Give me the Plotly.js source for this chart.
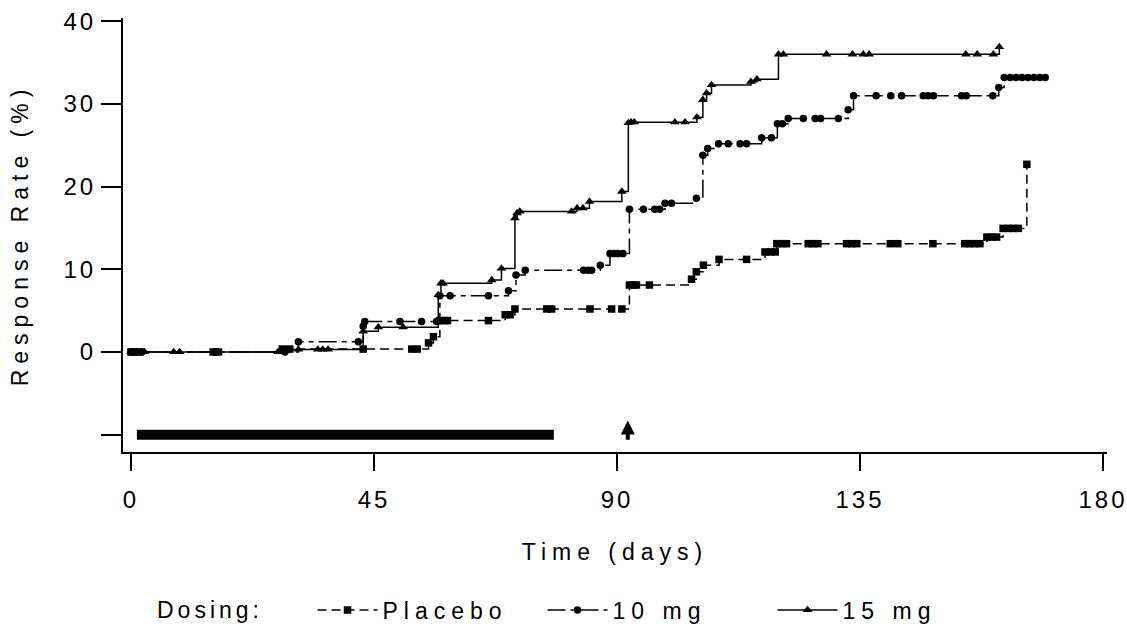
<!DOCTYPE html>
<html>
<head>
<meta charset="utf-8">
<script src="https://cdn.plot.ly/plotly-3.0.1.min.js"></script>
<style>
  html, body { margin: 0; padding: 0; background: #fff; }
  #chart { width: 1127px; height: 629px; }
  .xtick text, .ytick text { letter-spacing: 3px; }
  text.xtitle, text.ytitle, text.legendtext { letter-spacing: 6px; }
  text.legendtitletext { letter-spacing: 4px; }
</style>
</head>
<body>
<div id="chart"></div>
<script>
// ---- Data ----
const placeboDays = [0, 0.6, 1.6, 15.2, 16.2, 28.0, 29.4, 43.0, 52.0, 53.0, 55.1, 56.0, 57.2, 58.0, 58.6, 66.2, 69.3, 70.2, 71.1, 77.0, 77.9, 85.0, 89.0, 90.9, 92.3, 93.0, 93.6, 96.0, 103.8, 104.7, 106.0, 108.9, 114.0, 117.4, 118.4, 119.3, 119.6, 120.5, 121.4, 125.4, 126.3, 127.2, 132.5, 133.5, 134.4, 140.6, 142.0, 148.5, 154.4, 155.3, 156.2, 157.2, 158.5, 159.4, 160.3, 161.5, 162.5, 163.4, 164.3, 165.9];
const placeboRate = [0, 0, 0, 0, 0, 0.35, 0.35, 0.35, 0.35, 0.35, 1.1, 1.85, 3.8, 3.8, 3.8, 3.8, 4.5, 4.5, 5.2, 5.2, 5.2, 5.2, 5.2, 5.2, 8.1, 8.1, 8.1, 8.1, 8.8, 9.7, 10.5, 11.2, 11.2, 12.1, 12.1, 12.1, 13.1, 13.1, 13.1, 13.1, 13.1, 13.1, 13.1, 13.1, 13.1, 13.1, 13.1, 13.1, 13.1, 13.1, 13.1, 13.1, 13.9, 13.9, 13.9, 14.95, 14.95, 14.95, 14.95, 22.7];

const mg10Days = [0, 1.0, 2.0, 15.6, 28.5, 31.0, 42.1, 43.0, 43.3, 49.8, 53.8, 56.6, 57.2, 59.1, 66.2, 69.9, 71.3, 73.0, 83.8, 84.6, 85.3, 86.9, 88.7, 89.5, 90.2, 91.1, 92.3, 94.9, 97.0, 97.9, 98.9, 100.1, 104.7, 105.9, 106.8, 108.8, 110.6, 112.8, 114.0, 116.8, 118.6, 119.7, 120.6, 121.7, 124.5, 126.7, 127.7, 131.0, 132.8, 133.8, 138.0, 140.7, 142.7, 146.7, 147.6, 148.6, 153.8, 154.7, 159.6, 160.7, 161.7, 162.8, 163.9, 165.0, 166.1, 167.2, 168.3, 169.3];
const mg10Rate = [0, 0, 0, 0, 0, 1.25, 1.25, 3.1, 3.7, 3.7, 3.7, 3.7, 6.8, 6.8, 6.8, 7.4, 9.3, 9.9, 9.9, 9.9, 9.9, 10.5, 11.9, 11.9, 11.9, 11.9, 17.25, 17.25, 17.25, 17.25, 18.0, 18.0, 18.6, 23.8, 24.6, 25.2, 25.2, 25.2, 25.2, 25.9, 25.9, 27.6, 27.6, 28.25, 28.25, 28.25, 28.25, 28.25, 29.3, 31.0, 31.0, 31.0, 31.0, 31.0, 31.0, 31.0, 31.0, 31.0, 31.0, 32.0, 33.2, 33.2, 33.2, 33.2, 33.2, 33.2, 33.2, 33.2];

const mg15Days = [0, 0.3, 2.5, 7.9, 9.0, 27.2, 28.2, 31.0, 34.6, 35.5, 36.5, 43.0, 45.8, 50.4, 56.9, 57.4, 57.8, 66.8, 68.6, 71.1, 71.5, 72.0, 81.6, 82.6, 83.7, 84.9, 90.9, 92.1, 92.6, 93.2, 100.7, 102.6, 104.8, 105.9, 106.6, 107.5, 114.8, 115.9, 119.9, 120.8, 128.8, 133.6, 135.6, 136.7, 154.6, 156.7, 159.7, 160.8];
const mg15Rate = [0, 0, 0, 0, 0, 0, 0.3, 0.3, 0.3, 0.3, 0.3, 2.5, 3.0, 3.0, 6.9, 8.3, 8.3, 8.7, 10.1, 16.2, 16.8, 17.0, 17.0, 17.4, 17.4, 18.2, 19.4, 27.7, 27.8, 27.8, 27.8, 27.8, 28.4, 30.5, 31.3, 32.3, 32.7, 33.0, 36.0, 36.0, 36.0, 36.0, 36.0, 36.0, 36.0, 36.0, 36.0, 36.9];

const seriesNames = ["Placebo", "10 mg", "15 mg"];
const dosingPeriodDays = [1.1, 78.3];
const dosingPeriodLevel = [-10, -10];
const arrowDay = [92];
const arrowLevels = [-10.8, -8.3];

const xTickVals = [0, 45, 90, 135, 180];
const xTickText = ["0", "45", "90", "135", "180"];
const yTickVals = [-10, 0, 10, 20, 30, 40];
const yTickText = ["", "0", "10", "20", "30", "40"];

// ---- Chart ----
const FONT = "Liberation Sans Narrow, Arial Narrow, sans-serif";
const lineStyle = (dash) => ({ color: "#000", width: 1.5, shape: "hv", dash: dash });

const traces = [
  {
    x: placeboDays, y: placeboRate, name: seriesNames[0], type: "scatter", mode: "lines+markers",
    line: lineStyle("9px,5px"),
    marker: { symbol: "square", size: 7.5, color: "#000" }
  },
  {
    x: mg10Days, y: mg10Rate, name: seriesNames[1], type: "scatter", mode: "lines+markers",
    line: lineStyle("18px,5px,5px,5px"),
    marker: { symbol: "circle", size: 7.5, color: "#000" }
  },
  {
    x: mg15Days, y: mg15Rate, name: seriesNames[2], type: "scatter", mode: "lines+markers",
    line: lineStyle("solid"),
    marker: { symbol: "triangle-up", size: 8.5, color: "#000" }
  },
  {
    x: dosingPeriodDays, y: dosingPeriodLevel, type: "scatter", mode: "lines",
    line: { color: "#000", width: 10 }, showlegend: false, hoverinfo: "skip"
  }
];

const layout = {
  width: 1127, height: 629,
  margin: { l: 123, r: 20, t: 18, b: 177, autoexpand: false },
  paper_bgcolor: "#fff", plot_bgcolor: "#fff",
  font: { family: FONT, size: 23, color: "#000" },
  showlegend: true,
  xaxis: {
    range: [-1.48, 180.74], tickvals: xTickVals, ticktext: xTickText,
    showline: true, linewidth: 2, linecolor: "#000",
    ticks: "outside", ticklen: 17, tickwidth: 2, tickcolor: "#000",
    showgrid: false, zeroline: false, ticklabelstandoff: 8, ticklabeloverflow: "allow",
    tickfont: { family: FONT, size: 24, color: "#000" },
    title: { text: "Time (days)", font: { family: FONT, size: 23, color: "#000" }, standoff: 32 }
  },
  yaxis: {
    range: [-12.1, 40.4], tickvals: yTickVals, ticktext: yTickText,
    showline: true, linewidth: 2, linecolor: "#000",
    ticks: "outside", ticklen: 20, tickwidth: 2, tickcolor: "#000",
    showgrid: false, zeroline: false, ticklabelstandoff: 0, ticklabeloverflow: "allow",
    tickfont: { family: FONT, size: 24, color: "#000" },
    title: { text: "Response Rate (%)", font: { family: FONT, size: 23, color: "#000" }, standoff: 28 }
  },
  legend: {
    orientation: "h", x: 0.0325, xanchor: "left", y: -0.364, yanchor: "middle",
    title: { text: "Dosing:\u00a0\u00a0\u00a0\u00a0", side: "left", font: { family: FONT, size: 23, color: "#000" } },
    font: { family: FONT, size: 23, color: "#000" },
    itemwidth: 60, entrywidth: 155, entrywidthmode: "pixels",
    bgcolor: "rgba(0,0,0,0)", borderwidth: 0
  },
  annotations: [
    {
      x: arrowDay[0], y: arrowLevels[1], ax: arrowDay[0], ay: arrowLevels[0],
      xref: "x", yref: "y", axref: "x", ayref: "y",
      text: "", showarrow: true, arrowhead: 2, arrowsize: 0.7, arrowwidth: 4, arrowcolor: "#000"
    }
  ]
};

Plotly.newPlot("chart", traces, layout, { displayModeBar: false, staticPlot: true });
</script>
</body>
</html>
